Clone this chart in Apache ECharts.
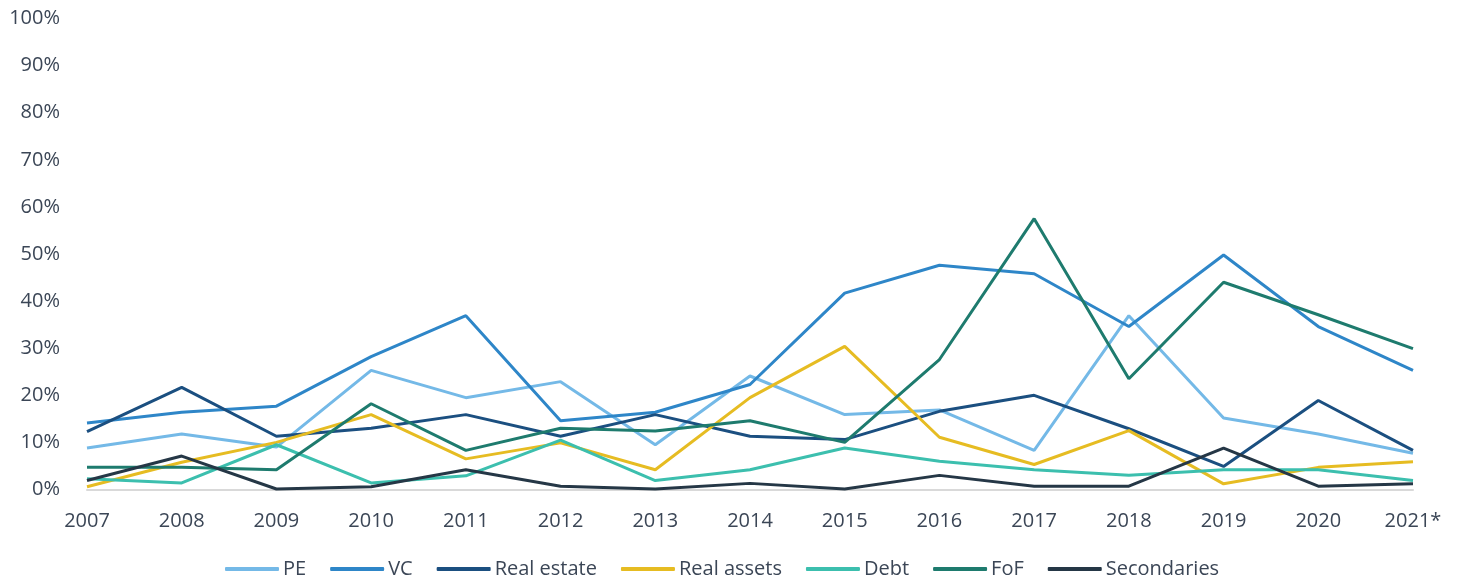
<!DOCTYPE html>
<html>
<head>
<meta charset="utf-8">
<style>
  html, body { margin: 0; padding: 0; background: #fff; }
  #chart { width: 1465px; height: 577px; }
</style>
<script src="https://cdn.jsdelivr.net/npm/echarts@6/dist/echarts.min.js"></script>
</head>
<body>
<div id="chart"></div>
<script>
// years on the x axis
var years = ["2007", "2008", "2009", "2010", "2011", "2012", "2013", "2014",
  "2015", "2016", "2017", "2018", "2019", "2020", "2021*"];

// share per strategy, in %
var pe          = [8.8, 11.8, 9.0, 25.3, 19.5, 22.9, 9.5, 24.1, 15.9, 16.9, 8.3, 36.9, 15.2, 11.8, 7.7];
var vc          = [14.1, 16.4, 17.7, 28.2, 36.9, 14.6, 16.4, 22.3, 41.7, 47.6, 45.8, 34.6, 49.8, 34.6, 25.3];
var realEstate  = [12.3, 21.7, 11.3, 13.0, 15.9, 11.3, 15.9, 11.3, 10.6, 16.6, 20.0, 12.9, 4.9, 18.9, 8.3];
var realAssets  = [0.6, 5.8, 10.0, 15.9, 6.5, 9.9, 4.2, 19.5, 30.4, 11.1, 5.3, 12.5, 1.2, 4.7, 5.9];
var debt        = [2.3, 1.4, 9.5, 1.4, 2.9, 10.5, 1.9, 4.2, 8.8, 6.0, 4.2, 3.0, 4.2, 4.2, 1.9];
var fof         = [4.7, 4.7, 4.2, 18.2, 8.3, 13.0, 12.4, 14.6, 10.0, 27.6, 57.5, 23.5, 44.0, 37.1, 29.9];
var secondaries = [1.9, 7.1, 0.1, 0.6, 4.2, 0.7, 0.1, 1.3, 0.1, 3.0, 0.7, 0.7, 8.8, 0.7, 1.2];

var textColor = "#3b4656";
var font = "Open Sans";

function line(name, data, color) {
  return {
    name: name,
    type: "line",
    data: data,
    symbol: "none",
    lineStyle: { width: 3, color: color },
    itemStyle: { color: color },
    emphasis: { disabled: true }
  };
}

var myChart = echarts.init(document.getElementById("chart"));
var option = {
  animation: false,
  grid: { left: 87, right: 52, top: 18.5, bottom: 87.5 },
  legend: {
    left: 220,
    top: 554,
    icon: "roundRect",
    itemWidth: 54,
    itemHeight: 4,
    itemGap: 24,
    textStyle: { color: textColor, fontFamily: font, fontSize: 20, padding: [0, 0, 0, -1] }
  },
  xAxis: {
    type: "category",
    data: years,
    boundaryGap: false,
    axisLine: { lineStyle: { color: "#d9d9d9", width: 2 } },
    axisTick: { show: false },
    axisLabel: { color: textColor, fontFamily: font, fontSize: 20, margin: 22 }
  },
  yAxis: {
    type: "value",
    min: 0,
    max: 100,
    interval: 10,
    splitLine: { show: false },
    axisLine: { show: false },
    axisTick: { show: false },
    axisLabel: { color: textColor, fontFamily: font, fontSize: 20, margin: 27, formatter: "{value}%" }
  },
  series: [
    line("PE", pe, "#74b9e7"),
    line("VC", vc, "#2e86c8"),
    line("Real estate", realEstate, "#1b4f80"),
    line("Real assets", realAssets, "#e6bc22"),
    line("Debt", debt, "#3cbfae"),
    line("FoF", fof, "#1e7b6e"),
    line("Secondaries", secondaries, "#253746")
  ]
};
myChart.setOption(option);
</script>
</body>
</html>
